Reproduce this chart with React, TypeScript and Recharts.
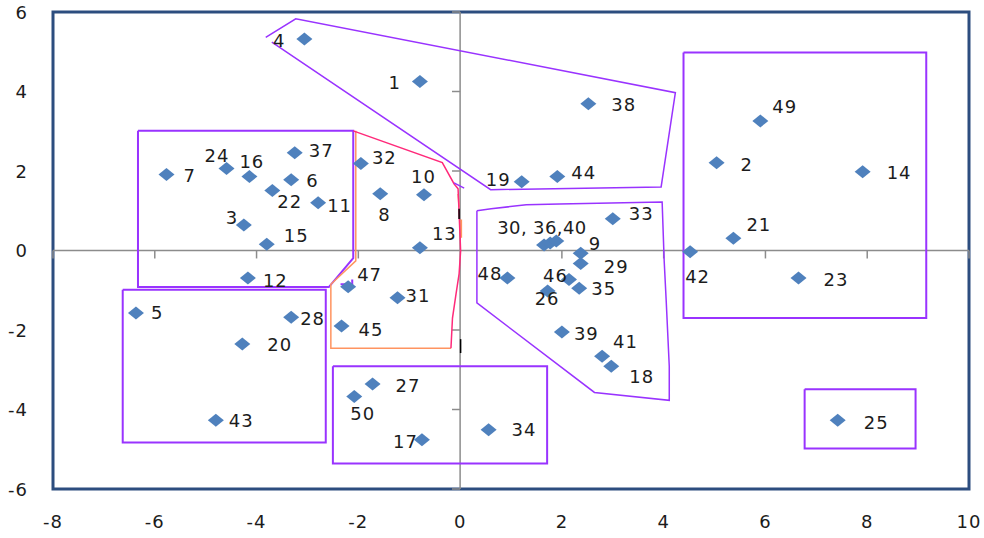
import React from 'react';
import { ScatterChart, Scatter, XAxis, YAxis, ReferenceLine, ReferenceArea } from 'recharts';

const W = 984;
const H = 538;

// ---- data ----
const pointIds = ['1','2','3','4','5','6','7','8','9','10','11','12','13','14','15','16','17','18','19','20','21','22','23','24','25','26','27','28','29','30','31','32','33','34','35','36','37','38','39','40','41','42','43','44','45','46','47','48','49','50'];
const pointLabels = ['1','2','3','4','5','6','7','8','9','10','11','12','13','14','15','16','17','18','19','20','21','22','23','24','25','26','27','28','29','','31','32','33','34','35','30, 36,40','37','38','39','','41','42','43','44','45','46','47','48','49','50'];
const xValues = [-0.79, 5.04, -4.25, -3.06, -6.37, -3.32, -5.77, -1.57, 2.37, -0.71, -2.79, -4.17, -0.79, 7.91, -3.80, -4.14, -0.75, 2.97, 1.21, -4.28, 5.37, -3.69, 6.65, -4.59, 7.42, 1.72, -1.72, -3.32, 2.37, 1.65, -1.23, -1.95, 3.00, 0.56, 2.34, 1.77, -3.25, 2.52, 2.00, 1.89, 2.79, 4.52, -4.80, 1.91, -2.33, 2.14, -2.20, 0.93, 5.90, -2.08];
const yValues = [4.25, 2.21, 0.64, 5.32, -1.57, 1.78, 1.91, 1.43, -0.07, 1.40, 1.20, -0.69, 0.07, 1.98, 0.16, 1.86, -4.76, -2.91, 1.73, -2.35, 0.31, 1.51, -0.69, 2.06, -4.27, -1.02, -3.36, -1.68, -0.33, 0.14, -1.19, 2.19, 0.80, -4.51, -0.95, 0.19, 2.46, 3.69, -2.05, 0.24, -2.66, -0.03, -4.27, 1.86, -1.90, -0.73, -0.91, -0.69, 3.26, -3.67];

const xTicks = [-8, -6, -4, -2, 0, 2, 4, 6, 8, 10];
const yTicks = [-6, -4, -2, 0, 2, 4, 6];

// group outlines (data units)
const topGroupPoly = [[-3.82, 5.36], [-3.23, 5.83], [4.23, 3.97], [3.95, 1.60], [0.60, 1.53], [-3.70, 5.24]];
const leftGroupPoly = [[-6.33, 3.01], [-2.10, 3.01], [-2.10, -0.19], [-2.58, -0.92], [-6.33, -0.92], [-6.33, 3.01]];
const centerRedPoly = [[-2.10, 3.01], [-0.35, 2.21], [-0.12, 1.68], [-0.04, 1.55], [0.0, 0.32], [0.01, -0.01], [-0.02, -0.59], [-0.08, -1.09], [-0.15, -1.70], [-0.18, -2.46]];
const centerOrangePoly = [[-2.05, 3.01], [-2.05, -0.26], [-2.54, -0.85], [-2.54, -2.46], [-0.18, -2.46]];
const centerOrangeRight = [[-0.04, 1.42], [-0.02, 1.10]];
const centerOrangeRight2 = [[0.02, 0.78], [0.02, 0.32]];
const blackMark1 = [[-0.02, 1.05], [-0.02, 0.79]];
const blackMark2 = [[0.01, -2.23], [0.01, -2.58]];
const smallPurple1 = [[-0.12, 1.70], [0.08, 1.57]];
const smallPurple2 = [[-2.35, -0.85], [-2.12, -0.85], [-2.12, -0.73]];
const rightMidPoly = [[0.33, 1.00], [0.61, 1.05], [1.30, 1.15], [1.95, 1.17], [3.97, 1.22], [4.01, -0.26], [4.05, -1.27], [4.11, -2.91], [4.11, -3.77], [2.64, -3.57], [0.33, -1.32], [0.33, 1.00]];
const rightBoxPoly = [[4.39, 4.98], [9.16, 4.98], [9.16, -1.70], [4.39, -1.70], [4.39, 4.98]];
const lowerLeftPoly = [[-6.63, -0.99], [-2.64, -0.99], [-2.64, -4.83], [-6.63, -4.83], [-6.63, -0.99]];
const bottomPoly = [[-2.50, -2.91], [1.71, -2.91], [1.71, -5.36], [-2.50, -5.36], [-2.50, -2.91]];
const loneBoxPoly = [[6.77, -3.49], [8.95, -3.49], [8.95, -4.98], [6.77, -4.98], [6.77, -3.49]];

// ---- layout / style ----
const LABEL_LAYOUT: Record<string, [string, number, number]> = {
  '1': ['end', -19, 1], '2': ['start', 24, 2], '3': ['start', -18, -8], '4': ['end', -19, 1],
  '5': ['start', 15, 0], '6': ['start', 15, 1], '7': ['start', 17, 1], '8': ['start', -2, 21],
  '9': ['start', 8, -10], '10': ['start', -13, -18], '11': ['start', 9, 3], '12': ['start', 15, 3],
  '13': ['start', 12, -14], '14': ['start', 24, 1], '15': ['start', 17, -9], '16': ['start', -10, -15],
  '17': ['end', -4, 2], '18': ['start', 18, 10], '19': ['end', -11, -2], '20': ['start', 25, 1],
  '21': ['start', 13, -14], '22': ['start', 5, 11], '23': ['start', 25, 2], '24': ['start', -22, -13],
  '25': ['start', 26, 2], '26': ['start', -13, 7], '27': ['start', 23, 1], '28': ['start', 9, 1],
  '29': ['start', 23, 3], '31': ['start', 8, -2], '32': ['start', 11, -6], '33': ['start', 16, -5],
  '34': ['start', 23, 0], '35': ['start', 12, 0], '36': ['start', -53, -15], '37': ['start', 14, -2],
  '38': ['start', 23, 1], '39': ['start', 12, 2], '41': ['start', 11, -15], '42': ['start', -5, 25],
  '43': ['start', 13, 0], '44': ['start', 14, -4], '45': ['start', 17, 3], '46': ['start', -26, -4],
  '47': ['start', 9, -12], '48': ['end', -5, -4], '49': ['start', 12, -14], '50': ['start', -4, 17],
};

const PURPLE = '#9933FF';
const RED = '#FF2A7A';
const ORANGE = '#FF9460';
const FONT = '"DejaVu Sans", Verdana, sans-serif';
const TEXT = '#1c1c1c';

const toPts = (arr: number[][]) => arr.map(([x, y]) => ({ x, y }));
const Empty = () => <g />;

const PointShape = (props: any) => {
  const { cx, cy, payload } = props;
  if (cx == null || cy == null) return <g />;
  const lay = LABEL_LAYOUT[payload.id] || ['start', 14, 0];
  const long = payload.label && payload.label.length > 3;
  return (
    <g>
      <polygon
        points={`${cx},${cy - 6.5} ${cx + 8},${cy} ${cx},${cy + 6.5} ${cx - 8},${cy}`}
        fill="#4F81BD"
      />
      {payload.label ? (
        <text
          x={cx + lay[1]}
          y={cy + lay[2] + 6.5}
          textAnchor={lay[0] === 'end' ? 'end' : 'start'}
          fontFamily={FONT}
          fontSize={18}
          letterSpacing={long ? 0.4 : 1}
          fill={TEXT}
        >
          {payload.label}
        </text>
      ) : null}
    </g>
  );
};

const XTick = (props: any) => {
  const { x, y, payload } = props;
  return (
    <text x={x} y={y + 39} textAnchor="middle" fontFamily={FONT} fontSize={18} letterSpacing={1} fill={TEXT}>
      {payload.value}
    </text>
  );
};

const YTick = (props: any) => {
  const { x, y, payload } = props;
  return (
    <text x={x - 25} y={y + 6.5} textAnchor="end" fontFamily={FONT} fontSize={18} letterSpacing={1} fill={TEXT}>
      {payload.value}
    </text>
  );
};

const outline = (data: number[][], color: string, width: number, key: string) => (
  <Scatter
    key={key}
    data={toPts(data)}
    line={{ stroke: color, strokeWidth: width }}
    lineType="joint"
    shape={Empty}
    fill={color}
    legendType="none"
    isAnimationActive={false}
  />
);

export default function App() {
  const points = pointIds.map((id, i) => ({ id, label: pointLabels[i], x: xValues[i], y: yValues[i] }));
  return (
    <div style={{ position: 'absolute', left: 0, top: 0, width: W, height: H, background: '#ffffff' }}>
      <ScatterChart width={W} height={H} margin={{ top: 12, right: 15, bottom: 0, left: 0 }}>
        <XAxis
          type="number"
          dataKey="x"
          domain={[-8, 10]}
          ticks={xTicks}
          interval={0}
          axisLine={false}
          tickLine={false}
          tickSize={0}
          tickMargin={0}
          height={49}
          tick={<XTick />}
          allowDataOverflow
        />
        <YAxis
          type="number"
          dataKey="y"
          domain={[-6, 6]}
          ticks={yTicks}
          interval={0}
          axisLine={false}
          tickLine={false}
          tickSize={0}
          tickMargin={0}
          width={53}
          tick={<YTick />}
          allowDataOverflow
        />
        <ReferenceLine x={0} stroke="#8c8c8c" strokeWidth={1.5} />
        <ReferenceLine y={0} stroke="#8c8c8c" strokeWidth={1.5} />
        {xTicks.filter((t) => t !== 0).map((t) => (
          <ReferenceLine key={'xt' + t} segment={[{ x: t, y: 0 }, { x: t, y: -0.2 }]} stroke="#8c8c8c" strokeWidth={1.5} />
        ))}
        {yTicks.filter((t) => t !== 0).map((t) => (
          <ReferenceLine key={'yt' + t} segment={[{ x: 0, y: t }, { x: -0.16, y: t }]} stroke="#8c8c8c" strokeWidth={1.5} />
        ))}
        {outline(topGroupPoly, PURPLE, 1.5, 'p1')}
        {outline(leftGroupPoly, PURPLE, 2, 'p2')}
        {outline(centerOrangePoly, ORANGE, 1.5, 'p3')}
        {outline(centerOrangeRight, ORANGE, 1.5, 'p3b')}
        {outline(centerOrangeRight2, ORANGE, 2, 'p3c')}
        {outline(centerRedPoly, RED, 1.5, 'p4')}
        {outline(blackMark1, '#000000', 1.5, 'b1')}
        {outline(blackMark2, '#000000', 1.5, 'b2')}
        {outline(smallPurple1, PURPLE, 1.5, 'sp1')}
        {outline(smallPurple2, PURPLE, 2, 'sp2')}
        {outline(rightMidPoly, PURPLE, 1.5, 'p5')}
        {outline(rightBoxPoly, PURPLE, 2, 'p6')}
        {outline(lowerLeftPoly, PURPLE, 2, 'p7')}
        {outline(bottomPoly, PURPLE, 2, 'p8')}
        {outline(loneBoxPoly, PURPLE, 2, 'p9')}
        <Scatter data={points} shape={PointShape} fill="#4F81BD" isAnimationActive={false} />
        <ReferenceArea x1={-8} x2={10} y1={-6} y2={6} fill="none" fillOpacity={0} stroke="#2C4D7F" strokeWidth={3} ifOverflow="visible" />
      </ScatterChart>
    </div>
  );
}
